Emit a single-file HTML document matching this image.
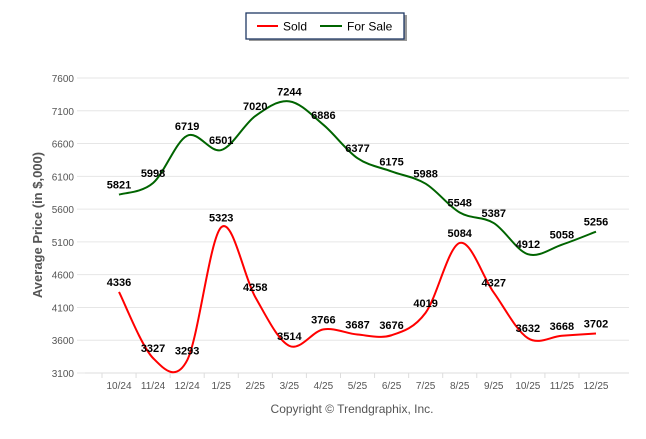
<!DOCTYPE html>
<html><head><meta charset="utf-8"><style>
body{margin:0;background:#fff;font-family:"Liberation Sans",sans-serif}
svg text{font-family:"Liberation Sans",sans-serif}
</style></head><body>
<svg id="c" width="646" height="434">
<rect x="249" y="15" width="158" height="26" fill="#999"/>
<rect x="246" y="13" width="158" height="26" fill="#fff" stroke="#1f3864" stroke-width="1.3"/>
<line x1="257" y1="26" x2="278" y2="26" stroke="#ff0000" stroke-width="2"/>
<text x="283" y="30.5" font-size="12">Sold</text>
<line x1="320" y1="26" x2="342" y2="26" stroke="#006400" stroke-width="2"/>
<text x="347" y="30.5" font-size="12">For Sale</text>
<text transform="translate(42,225) rotate(-90)" text-anchor="middle" font-size="13" font-weight="bold" fill="#555">Average Price (in $,000)</text>
<text x="352" y="413" text-anchor="middle" font-size="12" fill="#555">Copyright © Trendgraphix, Inc.</text>
<g id="g"></g>
</svg>
<script>
const categories=["10/24","11/24","12/24","1/25","2/25","3/25","4/25","5/25","6/25","7/25","8/25","9/25","10/25","11/25","12/25"];
const sold=[4336,3327,3293,5323,4258,3514,3766,3687,3676,4019,5084,4327,3632,3668,3702];
const forSale=[5821,5998,6719,6501,7020,7244,6886,6377,6175,5988,5548,5387,4912,5058,5256];
const yTicks=[3100,3600,4100,4600,5100,5600,6100,6600,7100,7600];
const NS="http://www.w3.org/2000/svg",g=document.getElementById('g');
const X=i=>119+34.07*i, Y=v=>373-(v-3100)*(295/4500);
function el(t,a){const e=document.createElementNS(NS,t);for(const k in a)e.setAttribute(k,a[k]);g.appendChild(e);return e;}
yTicks.forEach(t=>{
 const l=el('line',{x1:77,x2:629,y1:Y(t),y2:Y(t),stroke:'#e6e6e6'});
 
 
 const tx=el('text',{x:74,y:Y(t)+4,'text-anchor':'end','font-size':10,fill:'#555'});tx.textContent=t;
 
 
});
const ax=el('line',{x1:85,x2:629,y1:Y(3100),y2:Y(3100),stroke:'#ddd'});


categories.forEach((c,i)=>{
 const tk=el('line',{x1:X(i)-17,x2:X(i)-17,y1:373,y2:378,stroke:'#ddd'});
 
 
 const t=el('text',{x:X(i),y:389,'text-anchor':'middle','font-size':10,fill:'#555'});t.textContent=c;
 
 
});
function path(vals){
 const p=vals.map((v,i)=>[X(i),Y(v)]);let d=`M${p[0][0]},${p[0][1]}`;
 for(let i=0;i<p.length-1;i++){const p0=p[i-1]||p[i],p1=p[i],p2=p[i+1],p3=p[i+2]||p2;
  d+=` C${p1[0]+(p2[0]-p0[0])/6},${p1[1]+(p2[1]-p0[1])/6} ${p2[0]-(p3[0]-p1[0])/6},${p2[1]-(p3[1]-p1[1])/6} ${p2[0]},${p2[1]}`;}
 return d;}
[[sold,'#ff0000','sold'],[forSale,'#006400','for-sale']].forEach(([vals,col,n])=>{
 const p=el('path',{d:path(vals),fill:'none',stroke:col,'stroke-width':2});
 
 
 vals.forEach((v,i)=>{
  const t=el('text',{x:X(i),y:Y(v)-6,'text-anchor':'middle','font-size':11,'font-weight':'bold',fill:'#000'});t.textContent=v;
  
  
 });
});
</script>
</body></html>
